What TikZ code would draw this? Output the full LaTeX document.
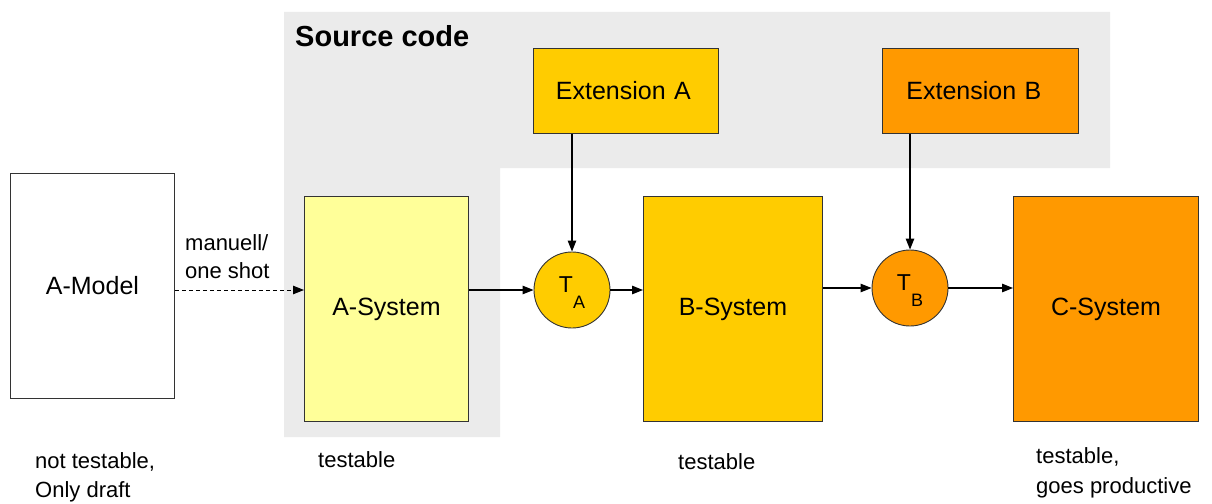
\documentclass[tikz,border=0pt]{standalone}
\usepackage{fontspec}
\setmainfont{Liberation Sans}
\usetikzlibrary{arrows.meta}

\definecolor{srcgray}{HTML}{EBEBEB}
\definecolor{lightyellow}{HTML}{FFFF99}
\definecolor{gold}{HTML}{FFCC00}
\definecolor{orangeB}{HTML}{FF9900}
\definecolor{edge}{HTML}{333333}

\begin{document}
\begin{tikzpicture}[x=1pt,y=-1pt,
  sysbox/.style={draw=edge, line width=0.9pt, inner sep=0pt, anchor=north west,
    font=\fontsize{25}{30}\selectfont},
  transform/.style={circle, draw=edge, line width=0.9pt, inner sep=0pt,
    minimum size=76pt, text height=19pt, text depth=14pt},
  note/.style={anchor=base west, inner sep=0pt, font=\fontsize{22}{26}\selectfont},
  flow/.style={draw=black, line width=1.2pt, -{Triangle[length=11pt,width=8.5pt]}},
  tsub/.style={font=\fontsize{23}{23}\selectfont}]

\useasboundingbox (0,0) rectangle (1212,503);

% source code area
\fill[srcgray] (284,12) -- (1110,12) -- (1110,168) -- (500,168)
  -- (500,437) -- (284,437) -- cycle;
\node[anchor=base west, inner sep=0pt, font=\bfseries\fontsize{29}{34}\selectfont]
  (srclabel) at (295,47) {Source code};

% systems
\node[sysbox, fill=white, minimum width=164pt, minimum height=225pt]
  (amodel) at (10,173) {A-Model};
\node[sysbox, fill=lightyellow, minimum width=164pt, minimum height=225pt]
  (asys) at (304,196) {A-System};
\node[sysbox, fill=gold, minimum width=179pt, minimum height=225pt]
  (bsys) at (643,196) {B-System};
\node[sysbox, fill=orangeB, minimum width=185pt, minimum height=225pt]
  (csys) at (1013,196) {C-System};

% extensions
\node[sysbox, fill=gold, minimum width=185pt, minimum height=85pt,
  text width=170pt, align=left, inner xsep=0pt]
  (exta) at (533,48) {\hspace*{15pt}Extension A};
\node[sysbox, fill=orangeB, minimum width=196pt, minimum height=85pt,
  text width=180pt, align=left, inner xsep=0pt]
  (extb) at (882,48) {\hspace*{16pt}Extension B};

% transformations
\node[transform, fill=gold, tsub] (ta) at (572,290)
  {T\raisebox{-15.5pt}{\fontsize{18}{18}\selectfont A}};
\node[transform, fill=orangeB, tsub] (tb) at (910,288)
  {T\raisebox{-15.5pt}{\fontsize{18}{18}\selectfont B}};

% connectors
\draw[flow, dash pattern=on 4pt off 3pt, line width=1pt]
  (amodel.east |- 0,290) -- (asys.west |- 0,290);
\draw[flow] (asys.east |- ta) -- (ta.west);
\draw[flow] (ta.east) -- (bsys.west |- ta.east);
\draw[flow] (exta.south -| ta.north) -- (ta.north);
\draw[flow] (bsys.east |- tb) -- (tb.west);
\draw[flow] (tb.east) -- (csys.west |- tb.east);
\draw[flow] (extb.south -| tb.north) -- (tb.north);

% annotations
\node[note] (manuell) at (185,250) {manuell/};
\node[note] (oneshot) at (185,278) {one shot};
\node[note] (nottest) at (35,468) {not testable,};
\node[note] (draft) at (35,497) {Only draft};
\node[note] (testa) at (318,467) {testable};
\node[note] (testb) at (678,469) {testable};
\node[note] (testc) at (1036,463) {testable,};
\node[note] (prod) at (1036,493) {goes productive};

\end{tikzpicture}
\end{document}
